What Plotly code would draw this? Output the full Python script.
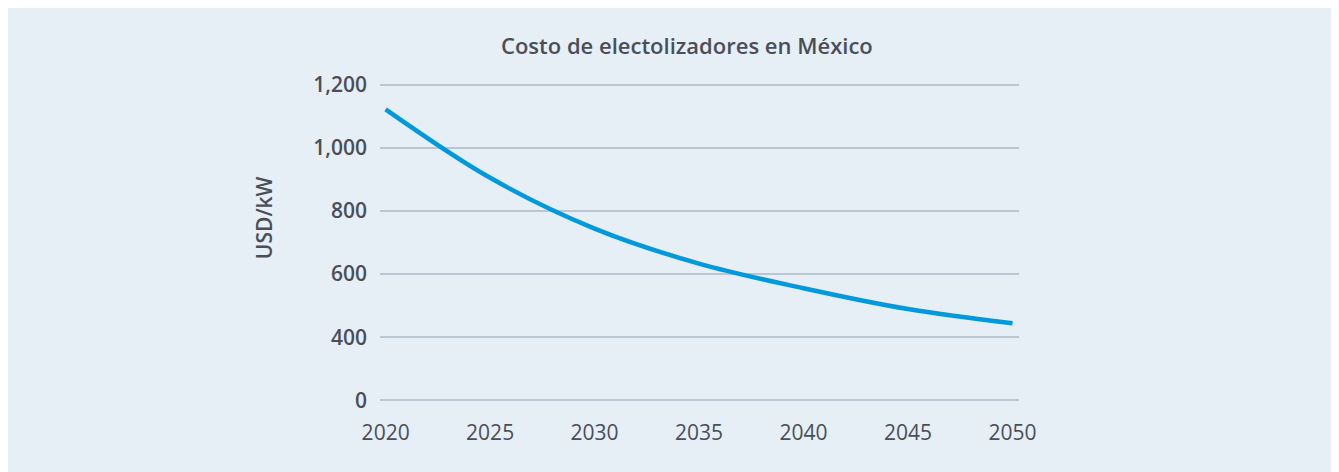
import plotly.graph_objects as go

years = [2020, 2025, 2030, 2035, 2040, 2045, 2050]
cost_usd_kw = [1122, 905, 744, 633, 555, 489, 444]

tick_vals = [200, 400, 600, 800, 1000, 1200]
tick_text = ["0", "400", "600", "800", "1,000", "1,200"]
x_ticks = [2020, 2025, 2030, 2035, 2040, 2045, 2050]

title_text = "Costo de electolizadores en México"
y_title = "USD/kW"

BG = "#E6EEF6"
TXT = "#4A4F57"
GRID = "#BAC6D2"
LINE = "#0099DB"

fig = go.Figure()
fig.add_trace(go.Scatter(
    x=years, y=cost_usd_kw, mode="lines",
    line=dict(color=LINE, width=4.5, shape="spline", smoothing=1.0),
    hoverinfo="x+y", showlegend=False,
))

fig.update_layout(
    width=1329, height=464,
    margin=dict(l=372, r=318, t=72, b=67),
    paper_bgcolor=BG, plot_bgcolor=BG,
    font=dict(family="Open Sans", color=TXT, size=21),
    xaxis=dict(
        range=[2019.73, 2050.31], tickvals=x_ticks,
        showgrid=False, zeroline=False, showline=False,
        ticks="", ticklabelstandoff=13,
        tickfont=dict(family="Open Sans", size=21, color=TXT),
    ),
    yaxis=dict(
        range=[185, 1215], tickvals=tick_vals, ticktext=tick_text,
        showgrid=True, gridcolor=GRID, gridwidth=1.5,
        zeroline=False, showline=False, ticks="", ticklabelstandoff=12,
        tickfont=dict(family="Open Sans", size=21, color=TXT, weight=600),
    ),
    annotations=[
        dict(text=title_text, xref="paper", yref="paper", x=0.4797, y=1.109,
             xanchor="center", yanchor="middle", showarrow=False,
             font=dict(family="Open Sans", size=22, color=TXT, weight=600)),
        dict(text=y_title, xref="paper", yref="paper", x=-0.1815, y=0.575,
             xanchor="center", yanchor="middle", textangle=-90, showarrow=False,
             font=dict(family="Open Sans", size=21, color=TXT, weight=600)),
    ],
)

fig.write_html("out.html")
